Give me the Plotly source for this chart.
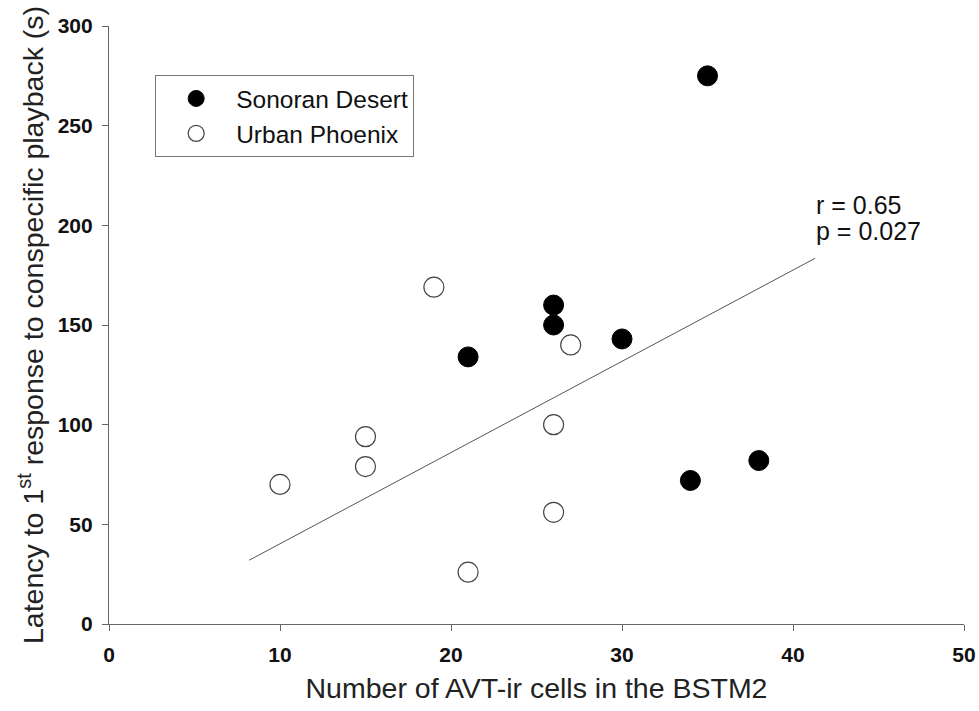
import plotly.graph_objects as go

# Data
sonoran_x = [21, 26, 26, 30, 35, 34, 38]
sonoran_y = [134, 160, 150, 143, 275, 72, 82]
urban_x = [10, 15, 15, 19, 21, 26, 26, 27]
urban_y = [70, 94, 79, 169, 26, 100, 56, 140]
fit_x = [8.2, 41.3]
fit_y = [32, 183.5]
x_ticks = [0, 10, 20, 30, 40, 50]
y_ticks = [0, 50, 100, 150, 200, 250, 300]
stats_lines = ["r = 0.65", "p = 0.027"]
stats_y = [210, 197]

FONT = "Liberation Sans, Arial, sans-serif"
AXIS_COLOR = "#666666"

fig = go.Figure()
fig.add_trace(go.Scatter(
    x=fit_x, y=fit_y, mode="lines", showlegend=False,
    line=dict(color="#555555", width=1), hoverinfo="skip"))
fig.add_trace(go.Scatter(
    x=sonoran_x, y=sonoran_y, mode="markers", name="Sonoran Desert",
    marker=dict(size=20, color="black", line=dict(color="black", width=1))))
fig.add_trace(go.Scatter(
    x=urban_x, y=urban_y, mode="markers", name="Urban Phoenix",
    marker=dict(size=20, color="white", line=dict(color="#444444", width=1.2))))

for txt, yy in zip(stats_lines, stats_y):
    fig.add_annotation(
        x=41.2, y=yy, xref="x", yref="y", text=txt, showarrow=False,
        xanchor="left", yanchor="middle", align="left",
        font=dict(family=FONT, size=25, color="#111111"))

axis_common = dict(
    showline=True, linecolor=AXIS_COLOR, linewidth=1.2,
    ticks="outside", tickcolor=AXIS_COLOR, ticklen=6, tickwidth=1,
    showgrid=False, zeroline=False, mirror=False, automargin=False,
    tickfont=dict(family=FONT, size=21, color="#111111", weight="bold"),
)

fig.update_xaxes(
    range=[0, 50], tickvals=x_ticks, ticktext=[str(v) for v in x_ticks],
    ticklabelstandoff=6,
    title=dict(text="Number of AVT-ir cells in the BSTM2",
               font=dict(family=FONT, size=28.5, color="#222222"), standoff=12),
    **axis_common)
fig.update_yaxes(
    range=[0, 300], tickvals=y_ticks, ticktext=[str(v) for v in y_ticks],
    ticklabelstandoff=5,
    title=dict(text="Latency to 1<sup>st</sup> response to conspecific playback (s)",
               font=dict(family=FONT, size=28.5, color="#222222"), standoff=5),
    **axis_common)

fig.update_layout(
    width=979, height=711,
    margin=dict(l=109, r=15, t=26, b=87),
    plot_bgcolor="white", paper_bgcolor="white",
    font=dict(family=FONT),
    legend=dict(
        x=0.054, y=0.918, xanchor="left", yanchor="top",
        bordercolor="#777777", borderwidth=1, bgcolor="white",
        font=dict(family=FONT, size=24.5, color="#111111"),
        itemsizing="trace", itemwidth=70, indentation=0, tracegroupgap=0,
    ),
)

fig.write_html(
    "out.html",
    config={"displayModeBar": False},
    post_script="document.body.style.margin='0';document.body.style.overflow='hidden';",
)
